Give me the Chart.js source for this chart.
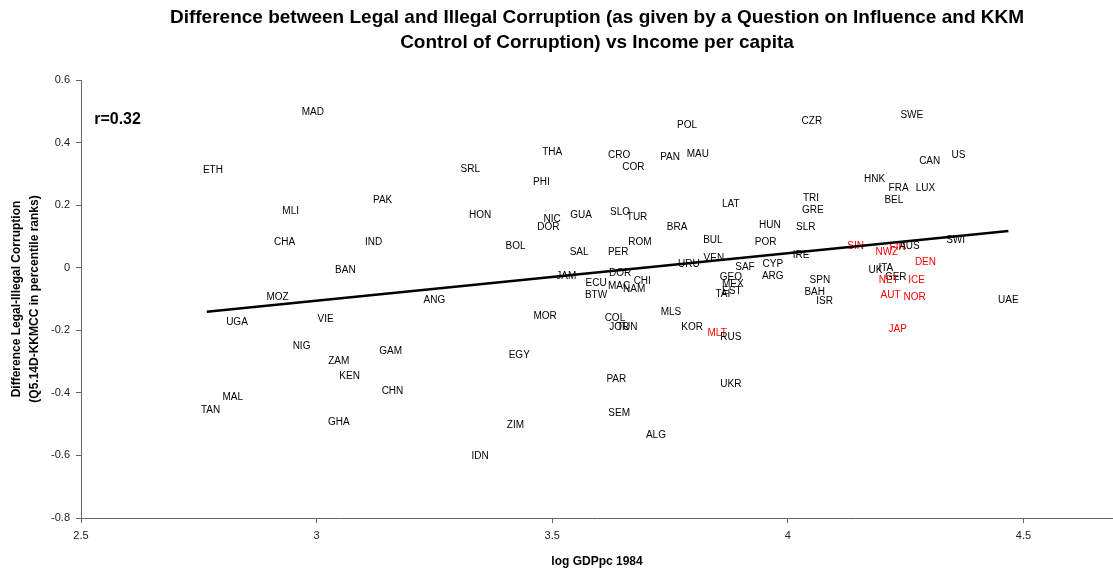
<!DOCTYPE html>
<html>
<head>
<meta charset="utf-8">
<script src="https://cdn.jsdelivr.net/npm/chart.js@4.4.1/dist/chart.umd.min.js"></script>
<style>
  html, body { margin: 0; padding: 0; background: #fff; }
  #wrap { width: 1113px; height: 571px; }
</style>
</head>
<body>
<div id="wrap"><canvas id="chart" width="1113" height="571"></canvas></div>
<script>
const countries = [
  'MAD','ETH','POL','CZR','SWE','THA','CRO','PAN','MAU','COR',
  'US','CAN','SRL','PHI','HNK','FRA','LUX','PAK','BEL','LAT',
  'TRI','GRE','MLI','HON','NIC','DOR','GUA','SLO','TUR','BRA',
  'HUN','SLR','CHA','IND','BOL','BUL','ROM','POR','SWI','SIN',
  'NWZ','FIN','AUS','SAL','PER','VEN','IRE','DEN','URU','BAN',
  'SAF','CYP','ITA','UK','GEO','JAM','DOR','ARG','GER','SPN',
  'MEX','CHI','ECU','MAC','NAM','NET','ICE','EST','TAI','BAH',
  'BTW','AUT','NOR','ISR','UAE','MOZ','ANG','MLS','MOR','COL',
  'VIE','UGA','JOR','TUN','KOR','JAP','MLT','RUS','NIG','GAM',
  'EGY','ZAM','KEN','PAR','UKR','CHN','MAL','TAN','SEM','GHA',
  'ZIM','ALG','IDN'
];
const logGdp = [
  2.992,2.780,3.786,4.051,4.263,3.500,3.642,3.750,3.809,3.672,
  4.362,4.301,3.326,3.477,4.184,4.235,4.292,3.140,4.225,3.879,
  4.049,4.053,2.945,3.347,3.500,3.492,3.561,3.644,3.680,3.765,
  3.962,4.038,2.932,3.121,3.422,3.841,3.686,3.953,4.356,4.144,
  4.210,4.233,4.258,3.557,3.640,3.843,4.028,4.292,3.790,3.061,
  3.909,3.968,4.208,4.186,3.879,3.530,3.644,3.968,4.229,4.068,
  3.883,3.691,3.593,3.642,3.674,4.214,4.273,3.881,3.862,4.057,
  3.593,4.218,4.269,4.078,4.468,2.917,3.250,3.752,3.485,3.633,
  3.019,2.831,3.642,3.659,3.797,4.233,3.850,3.879,2.968,3.157,
  3.430,3.047,3.070,3.636,3.879,3.161,2.822,2.775,3.642,3.047,
  3.422,3.720,3.347
];
const legalIllegal = [
  0.498,0.312,0.456,0.469,0.488,0.370,0.360,0.354,0.364,0.322,
  0.360,0.341,0.316,0.274,0.284,0.255,0.255,0.216,0.216,0.204,
  0.223,0.185,0.181,0.169,0.156,0.130,0.169,0.178,0.162,0.130,
  0.137,0.130,0.082,0.082,0.070,0.089,0.082,0.082,0.089,0.070,
  0.050,0.066,0.070,0.050,0.050,0.031,0.041,0.018,0.012,-0.007,
  0.002,0.012,-0.001,-0.007,-0.030,-0.026,-0.017,-0.026,-0.030,-0.039,
  -0.052,-0.042,-0.049,-0.058,-0.068,-0.039,-0.039,-0.074,-0.084,-0.078,
  -0.087,-0.087,-0.094,-0.106,-0.103,-0.094,-0.103,-0.141,-0.154,-0.161,
  -0.164,-0.173,-0.189,-0.189,-0.189,-0.196,-0.209,-0.221,-0.250,-0.266,
  -0.279,-0.298,-0.346,-0.356,-0.372,-0.394,-0.413,-0.455,-0.464,-0.493,
  -0.503,-0.535,-0.602
];
const redCountries = ['SIN','NWZ','FIN','DEN','NET','ICE','AUT','NOR','JAP','MLT'];

// fitted line, ends
const trendX = [2.767, 4.468];
const trendY = [-0.141, 0.117];

const titleLines = [
  'Difference between Legal and Illegal Corruption (as given by a Question on Influence and KKM',
  'Control of Corruption) vs Income per capita'
];
const rText = 'r=0.32';
const rPos = [2.528, 0.475];

const FONT = '"Liberation Sans", Arial, sans-serif';

const fmt = v => String(+Number(v).toFixed(2));

const labelPlugin = {
  id: 'countryLabels',
  beforeDatasetsDraw(chart) {
    const ctx = chart.ctx;
    const meta = chart.getDatasetMeta(1);
    ctx.save();
    ctx.font = '10px ' + FONT;
    ctx.textAlign = 'center';
    ctx.textBaseline = 'middle';
    meta.data.forEach((pt, i) => {
      ctx.fillStyle = redCountries.includes(countries[i]) ? '#ff0000' : '#000000';
      ctx.fillText(countries[i], pt.x, pt.y);
    });
    ctx.restore();
  },
  afterDraw(chart) {
    const ctx = chart.ctx;
    const xs = chart.scales.x, ys = chart.scales.y;
    ctx.save();
    ctx.fillStyle = '#000';
    ctx.font = 'bold 16px ' + FONT;
    ctx.textAlign = 'left';
    ctx.textBaseline = 'middle';
    ctx.fillText(rText, xs.getPixelForValue(rPos[0]), ys.getPixelForValue(rPos[1]));

    // titulo centrado sobre a area do grafico
    ctx.font = 'bold 19px ' + FONT;
    ctx.textAlign = 'center';
    const cx = (chart.chartArea.left + chart.chartArea.right) / 2;
    titleLines.forEach((t, i) => ctx.fillText(t, cx, 18 + i * 25));
    ctx.restore();
  }
};

const points = countries.map((c, i) => ({ x: logGdp[i], y: legalIllegal[i] }));
const trend = trendX.map((x, i) => ({ x: x, y: trendY[i] }));

new Chart(document.getElementById('chart'), {
  type: 'scatter',
  data: {
    datasets: [
      {
        type: 'line',
        data: trend,
        borderColor: '#000',
        borderWidth: 2.5,
        pointRadius: 0,
        fill: false
      },
      {
        data: points,
        pointRadius: 0,
        pointHoverRadius: 0,
        backgroundColor: 'transparent',
        borderColor: 'transparent'
      }
    ]
  },
  options: {
    responsive: false,
    animation: false,
    layout: { padding: { top: 80, left: 0, right: 0, bottom: 0 } },
    plugins: { legend: { display: false }, tooltip: { enabled: false }, title: { display: false } },
    scales: {
      x: {
        type: 'linear',
        min: 2.5,
        max: 4.69,
        afterBuildTicks: s => { s.ticks = s.ticks.filter(t => Math.abs(t.value * 2 - Math.round(t.value * 2)) < 1e-6); },
        afterFit: s => { s.height = 53; },
        ticks: { stepSize: 0.5, color: '#222', font: { size: 11, family: FONT }, padding: 6, callback: fmt, maxRotation: 0 },
        grid: { drawOnChartArea: false, drawTicks: true, tickLength: 5, color: '#666' },
        border: { color: '#666', width: 1 },
        title: { display: true, text: 'log GDPpc 1984', color: '#000', font: { size: 12, weight: 'bold', family: FONT }, padding: { top: 0, bottom: 2 } }
      },
      y: {
        min: -0.8,
        max: 0.6,
        afterFit: s => { s.width = 81; },
        ticks: { stepSize: 0.2, color: '#222', font: { size: 11, family: FONT }, padding: 6, callback: fmt },
        grid: { drawOnChartArea: false, drawTicks: true, tickLength: 5, color: '#666' },
        border: { color: '#666', width: 1 },
        title: {
          display: true,
          text: ['Difference Legal-Illegal Corruption', '(Q5.14D-KKMCC in percentile ranks)'],
          color: '#000',
          font: { size: 12, weight: 'bold', family: FONT, lineHeight: 1.5 },
          padding: { top: 8, bottom: 0 }
        }
      }
    }
  },
  plugins: [labelPlugin]
});
</script>
</body>
</html>
